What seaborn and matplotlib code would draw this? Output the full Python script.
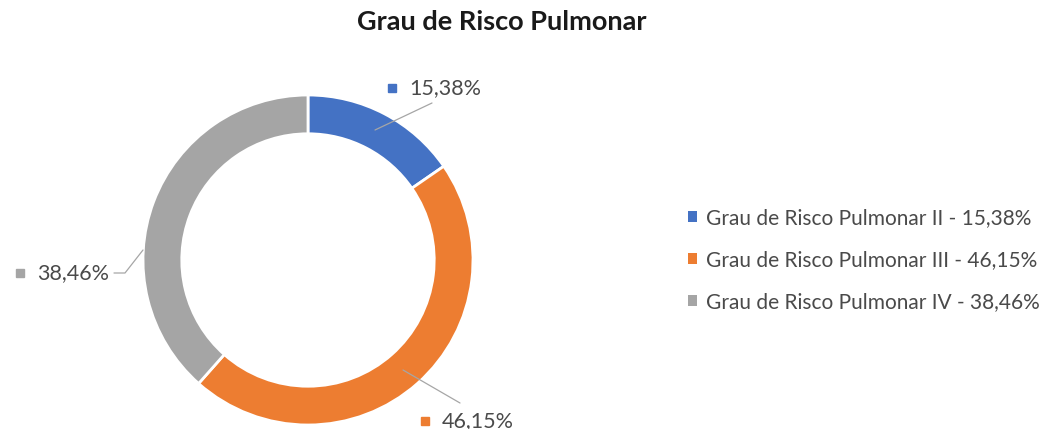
import matplotlib
matplotlib.use("Agg")
import matplotlib.pyplot as plt
from matplotlib.patches import Patch
import seaborn as sns

# ---- data ----
categories = ["Grau de Risco Pulmonar II", "Grau de Risco Pulmonar III", "Grau de Risco Pulmonar IV"]
values = [15.38, 46.15, 38.46]
value_labels = ["15,38%", "46,15%", "38,46%"]
colors = ["#4472C4", "#ED7D31", "#A5A5A5"]
title = "Grau de Risco Pulmonar"

sns.set_theme(style="white")
plt.rcParams["font.family"] = ["Lato", "DejaVu Sans"]
palette = sns.color_palette(colors)

W, H = 1064, 429
fig = plt.figure(figsize=(W / 100, H / 100), dpi=100)
ax = fig.add_axes([0, 0, 1, 1])
ax.set_xlim(0, W)
ax.set_ylim(0, H)
ax.axis("off")

cx, cy, R = 308, H - 260, 165
wedges, _ = ax.pie(values, colors=palette, startangle=90, counterclock=False,
                   center=(cx, cy), radius=R,
                   wedgeprops=dict(width=R * 0.235, edgecolor="white", linewidth=2))
ax.set_xlim(0, W)
ax.set_ylim(0, H)
ax.set_aspect("equal")

txt_col = "#4a4a4a"
line_col = "#A6A6A6"

def Y(y):
    return H - y

# data labels with leader lines (pixel positions)
lab_specs = [
    (392, 88, 409, [(375, 130), (432, 103)]),
    (425, 421, 442, [(403, 370), (460, 403)]),
    (20, 273, 37, [(143, 250), (125, 273), (114, 273)]),
]
for (mx, my, tx, pts), lab, col in zip(lab_specs, value_labels, palette):
    ax.plot([p[0] for p in pts], [Y(p[1]) for p in pts], color=line_col, lw=0.9)
    ax.plot([mx], [Y(my)], marker="s", ms=5.5, color=col, ls="none")
    ax.text(tx, Y(my), lab, fontsize=15.5, color=txt_col, va="center", ha="left")

# legend
handles = [Patch(facecolor=c, edgecolor="none") for c in palette]
leg_labels = [f"{c} - {v}" for c, v in zip(categories, value_labels)]
ax.legend(handles, leg_labels, loc="upper left",
          bbox_to_anchor=(688 / W, Y(208) / H), bbox_transform=fig.transFigure,
          frameon=False, fontsize=15.0, labelcolor=txt_col,
          handlelength=0.42, handleheight=0.42, handletextpad=0.45,
          labelspacing=1.06, borderpad=0, borderaxespad=0)

fig.text(502 / W, Y(22) / H, title, fontsize=19.5, fontweight="bold",
         color="#1a1a1a", ha="center", va="center")

fig.savefig("out.png", dpi=100, facecolor="white")
